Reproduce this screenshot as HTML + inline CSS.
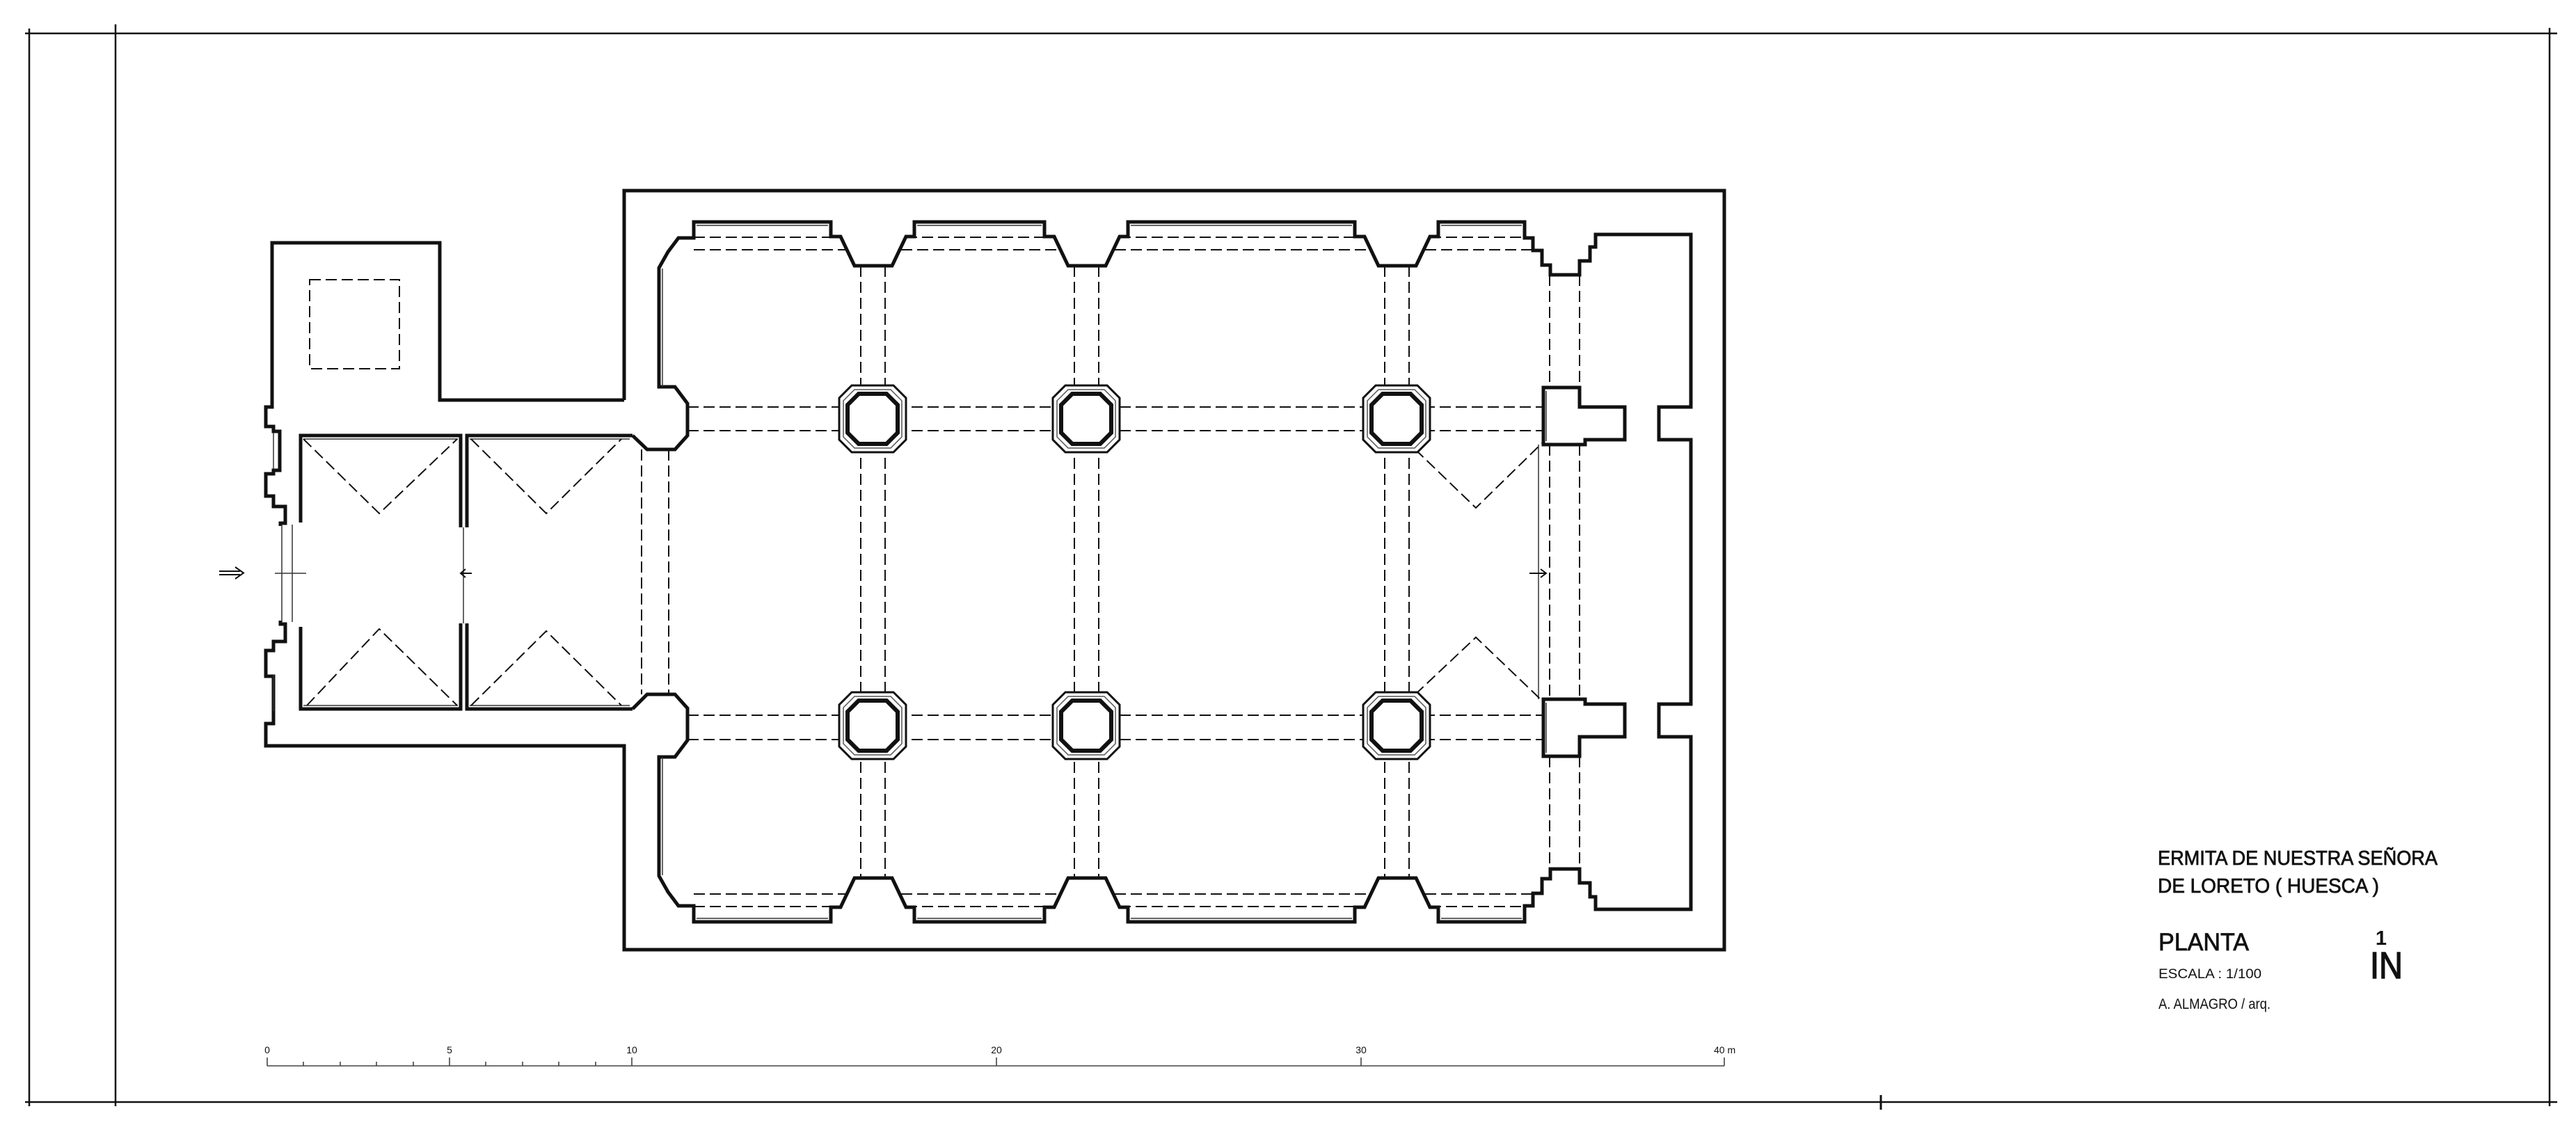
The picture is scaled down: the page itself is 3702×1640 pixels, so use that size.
<!DOCTYPE html>
<html><head><meta charset="utf-8"><style>
html,body{margin:0;padding:0;background:#fff;}
svg{display:block;}
</style></head><body>
<svg width="3702" height="1640" viewBox="0 0 3702 1640" xmlns="http://www.w3.org/2000/svg">
<defs>
<g id="oct">
<polygon points="-30,-48 30,-48 48,-30 48,30 30,48 -30,48 -48,30 -48,-30" fill="#fff" stroke="#111" stroke-width="3"/>
<polygon points="-26,-42 26,-42 42,-26 42,26 26,42 -26,42 -42,26 -42,-26" fill="none" stroke="#555" stroke-width="1.5"/>
<polygon points="-20,-36 20,-36 36,-20 36,20 20,36 -20,36 -36,20 -36,-20" fill="#fff" stroke="#111" stroke-width="6"/>
</g>
</defs>
<g fill="none" stroke="#111" stroke-linejoin="miter">
<g stroke-width="2.5">
<line x1="36" y1="48" x2="3675" y2="48"/>
<line x1="42" y1="41" x2="42" y2="1590"/>
<line x1="166" y1="35" x2="166" y2="1590"/>
<line x1="3664" y1="40" x2="3664" y2="1590"/>
<line x1="36" y1="1584" x2="3675" y2="1584"/>
<line x1="2703" y1="1574" x2="2703" y2="1595" stroke-width="3"/>
</g>

<g stroke-width="5">
<path d="M897 575 L897 274 L2478 274 L2478 1365 L897 1365 L897 1072 L382 1072 L382 1040 L393 1040 L393 972 L382 972 L382 935 L393 935 L393 922 L410 922 L410 897 L403 897 L403 892"/>
<path d="M897 575 L632 575 L632 349 L391 349 L391 585 L382 585 L382 613 L393 613 L393 620 L402 620 L402 676 L393 676 L393 681 L382 681 L382 713 L393 713 L393 728 L410 728 L410 752 L403 752 L403 756"/>
<path d="M432 751 L432 626 L662 626 L662 758 M662 896 L662 1019 L432 1019 L432 901"/>
<path d="M671 758 L671 626 L909 626 M909 1019 L671 1019 L671 896"/>
<path d="M909 626 L930 646 L970 646 L988 626 L988 580 L970 556 L947 556 L947 385 L960 362 L975 342 L997 342 L997 319
L1194 319 L1194 340 L1208 340 L1228 382 L1282 382 L1302 340 L1314 340 L1314 319
L1501 319 L1501 340 L1515 340 L1535 382 L1589 382 L1609 340 L1621 340 L1621 319
L1947 319 L1947 340 L1961 340 L1981 382 L2035 382 L2055 340 L2067 340 L2067 319
L2191 319 L2191 342 L2203 342 L2203 360 L2216 360 L2216 381 L2228 381 L2228 395 L2270 395 L2270 375 L2285 375 L2285 355 L2293 355 L2293 337 L2430 337
L2430 585 L2384 585 L2384 632 L2430 632 L2430 1012 L2384 1012 L2384 1059 L2430 1059 L2430 1307
L2293 1307 L2293 1289 L2285 1289 L2285 1269 L2270 1269 L2270 1249 L2228 1249 L2228 1263 L2216 1263 L2216 1284 L2203 1284 L2203 1302 L2191 1302 L2191 1325
L2067 1325 L2067 1304 L2055 1304 L2035 1262 L1981 1262 L1961 1304 L1947 1304 L1947 1325
L1621 1325 L1621 1304 L1609 1304 L1589 1262 L1535 1262 L1515 1304 L1501 1304 L1501 1325
L1314 1325 L1314 1304 L1302 1304 L1282 1262 L1228 1262 L1208 1304 L1194 1304 L1194 1325
L997 1325 L997 1302 L975 1302 L960 1282 L947 1259 L947 1088 L970 1088 L988 1064 L988 1018 L970 998 L930 998 L909 1019"/>
<path d="M2218 557 L2270 557 L2270 585 L2335 585 L2335 632 L2278 632 L2278 639 L2218 639 Z"/>
<path d="M2218 1087 L2270 1087 L2270 1059 L2335 1059 L2335 1012 L2278 1012 L2278 1005 L2218 1005 Z"/>
</g>

<g stroke-width="1.5" stroke="#333">
<line x1="436" y1="631" x2="658" y2="631"/><line x1="436" y1="1014" x2="658" y2="1014"/>
<line x1="675" y1="631" x2="905" y2="631"/><line x1="675" y1="1014" x2="905" y2="1014"/>
<line x1="405" y1="754" x2="405" y2="894"/><line x1="420" y1="754" x2="420" y2="894"/>
<line x1="666" y1="758" x2="666" y2="896"/>
<line x1="2211" y1="639" x2="2211" y2="1005"/>
<line x1="395" y1="824" x2="440" y2="824"/>
<line x1="393" y1="622" x2="393" y2="674"/><line x1="393" y1="970" x2="393" y2="1022"/>
<path d="M952 386 L952 556 M952 1088 L952 1258 M2222 562 L2222 634 M2222 1010 L2222 1082"/>
<path d="M1001 324 L1190 324 M1318 324 L1497 324 M1625 324 L1943 324 M2071 324 L2187 324 M1001 1320 L1190 1320 M1318 1320 L1497 1320 M1625 1320 L1943 1320 M2071 1320 L2187 1320"/>
</g>

<g stroke-width="2" stroke-dasharray="16 7">
<rect x="445" y="402" width="129" height="128"/>
<path d="M436 631 L545 738 L657 631 M441 1014 L545 904 L657 1014"/>
<path d="M677 631 L785 738 L893 631 M677 1014 L785 907 L893 1014"/>
<path d="M922 646 L922 998 M961 646 L961 998"/>
<path d="M988 585 L2218 585 M988 619 L2218 619 M988 1028 L2218 1028 M988 1063 L2218 1063"/>
<path d="M1237 382 L1237 1262 M1272 382 L1272 1262 M1544 382 L1544 1262 M1579 382 L1579 1262 M1990 382 L1990 1262 M2025 382 L2025 1262"/>
<path d="M997 341 L1206 341 M997 359 L1215 359 M1302 341 L1513 341 M1295 359 L1522 359 M1609 341 L1959 341 M1602 359 L1968 359 M2055 341 L2203 341 M2048 359 L2203 359"/>
<path d="M997 1303 L1206 1303 M997 1285 L1215 1285 M1302 1303 L1513 1303 M1295 1285 L1522 1285 M1609 1303 L1959 1303 M1602 1285 L1968 1285 M2055 1303 L2203 1303 M2048 1285 L2203 1285"/>
<path d="M2227 395 L2227 557 M2270 395 L2270 557 M2227 639 L2227 1005 M2270 639 L2270 1005 M2227 1087 L2227 1249 M2270 1087 L2270 1249"/>
<path d="M2034 646 L2121 730 L2216 637 M2034 998 L2121 916 L2216 1007"/>
</g>

<g stroke-width="2">
<path d="M315 821 L345 821 M315 826 L345 826 M338 815 L350 823.5 L338 832"/>
<path d="M662 824 L678 824 M669 818 L662 824 L669 830"/>
<path d="M2198 824 L2222 824 M2214 818 L2222 824 L2214 830"/>
</g>

<g stroke-width="1.6" stroke="#444">
<line x1="384" y1="1532" x2="2478" y2="1532"/>
<path d="M384 1520 L384 1532 M436 1526 L436 1532 M489 1526 L489 1532 M541 1526 L541 1532 M594 1526 L594 1532 M646 1520 L646 1532 M698 1526 L698 1532 M751 1526 L751 1532 M803 1526 L803 1532 M856 1526 L856 1532 M908 1520 L908 1532 M1432 1520 L1432 1532 M1956 1520 L1956 1532 M2478 1520 L2478 1532"/>
</g>
</g>

<use href="#oct" x="1254" y="602"/>
<use href="#oct" x="1561" y="602"/>
<use href="#oct" x="2007" y="602"/>
<use href="#oct" x="1254" y="1043"/>
<use href="#oct" x="1561" y="1043"/>
<use href="#oct" x="2007" y="1043"/>

<g font-family="Liberation Sans, sans-serif" fill="#111">
<g font-size="14">
<text x="384" y="1514" text-anchor="middle">0</text>
<text x="646" y="1514" text-anchor="middle">5</text>
<text x="908" y="1514" text-anchor="middle">10</text>
<text x="1432" y="1514" text-anchor="middle">20</text>
<text x="1956" y="1514" text-anchor="middle">30</text>
<text x="2463" y="1514">40 m</text>
</g>
<g stroke="#111" stroke-width="0.8">
<text x="3101" y="1243" font-size="29" textLength="402" lengthAdjust="spacingAndGlyphs">ERMITA DE  NUESTRA SEÑORA</text>
<text x="3101" y="1283" font-size="29" textLength="318" lengthAdjust="spacingAndGlyphs">DE  LORETO ( HUESCA )</text>
<text x="3102" y="1366" font-size="35" textLength="130" lengthAdjust="spacingAndGlyphs">PLANTA</text>
</g>
<text x="3102" y="1406" font-size="19" textLength="148" lengthAdjust="spacingAndGlyphs">ESCALA : 1/100</text>
<text x="3102" y="1450" font-size="21" textLength="161" lengthAdjust="spacingAndGlyphs">A. ALMAGRO / arq.</text>
<text x="3422" y="1358" font-size="29" text-anchor="middle" font-weight="bold">1</text>
<text x="3406" y="1406" font-size="54" textLength="47" lengthAdjust="spacingAndGlyphs" stroke="#111" stroke-width="1.5">IN</text>
</g>
</svg>
</body></html>
